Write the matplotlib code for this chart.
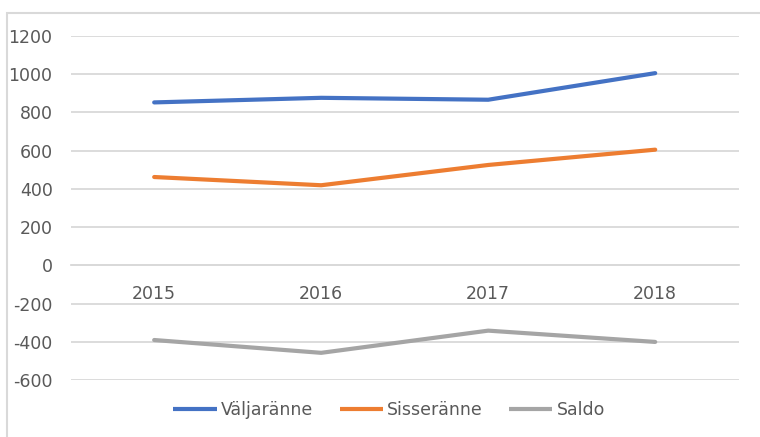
import matplotlib
matplotlib.use("Agg")
import matplotlib.pyplot as plt
from matplotlib.patches import Rectangle

years = ["2015", "2016", "2017", "2018"]
valjaranne = [852, 876, 866, 1005]
sisseranne = [462, 419, 525, 605]
saldo = [-390, -457, -341, -400]

series = [
    ("Väljaränne", valjaranne, "#4472C4"),
    ("Sisseränne", sisseranne, "#ED7D31"),
    ("Saldo", saldo, "#A5A5A5"),
]

plt.rcParams['font.family'] = ['DejaVu Sans']
plt.rcParams['axes.unicode_minus'] = False
text_col = "#595959"
grid_col = "#D9D9D9"

fig = plt.figure(figsize=(7.6, 4.37), dpi=100)
ax = fig.add_axes([0.093, 0.130, 0.879, 0.788])

# chart frame (cropped at right and bottom like the screenshot)
fig.patches.append(Rectangle((7 / 760, -0.05), 1.1, 1 - 13 / 437 + 0.05,
                             transform=fig.transFigure, fill=False,
                             edgecolor="#D9D9D9", linewidth=1.5))

x = list(range(len(years)))
for name, vals, col in series:
    ax.plot(x, vals, color=col, linewidth=3, label=name, solid_capstyle="round")

ax.set_xlim(-0.5, len(years) - 0.5)
ax.set_ylim(-600, 1200)
ax.set_yticks(range(-600, 1201, 200))
ax.yaxis.grid(True, color=grid_col, linewidth=1.3)
ax.set_axisbelow(True)

for s in ["top", "right", "left"]:
    ax.spines[s].set_visible(False)
ax.spines["bottom"].set_position(("data", 0))
ax.spines["bottom"].set_color(grid_col)
ax.spines["bottom"].set_linewidth(1.3)

ax.set_xticks(x)
ax.set_xticklabels(years)
ax.tick_params(axis="x", length=0, pad=14, labelsize=12.5, labelcolor=text_col)
ax.tick_params(axis="y", length=0, pad=13, labelsize=12.5, labelcolor=text_col)

leg = ax.legend(loc="upper center", bbox_to_anchor=(0.477, -0.015), ncol=3, frameon=False,
                fontsize=12.5, labelcolor=text_col, handlelength=2.5, handletextpad=0.25,
                columnspacing=1.5)
for h in leg.get_lines():
    h.set_solid_capstyle("butt")

plt.savefig("out.png", dpi=100)
